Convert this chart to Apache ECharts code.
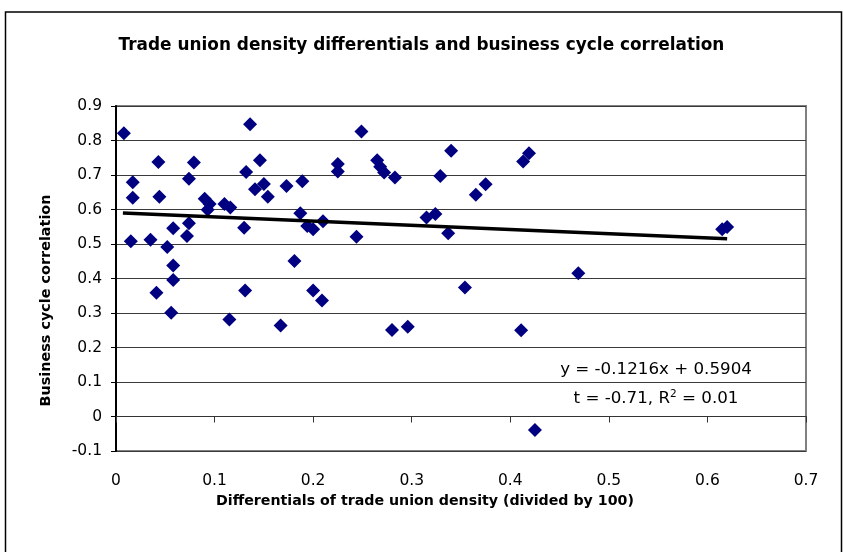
<!DOCTYPE html>
<html>
<head>
<meta charset="utf-8">
<script src="https://cdn.jsdelivr.net/npm/echarts@6/dist/echarts.min.js"></script>
<style>
  html, body { margin: 0; padding: 0; background: #fff; }
  #chart { width: 843px; height: 552px; }
</style>
</head>
<body>
<div id="chart"></div>
<script>
// union density differential (/100) and business cycle correlation
const unionDiff = [
  0.008, 0.017, 0.017, 0.015, 0.035, 0.043, 0.044, 0.052, 0.058, 0.058,
  0.058, 0.041, 0.056, 0.079, 0.074, 0.074, 0.072, 0.090, 0.095, 0.093,
  0.110, 0.116, 0.132, 0.136, 0.146, 0.141, 0.150, 0.154, 0.130, 0.131,
  0.115, 0.167, 0.173, 0.181, 0.189, 0.187, 0.194, 0.200, 0.210, 0.200,
  0.209, 0.225, 0.225, 0.249, 0.244, 0.265, 0.268, 0.272, 0.283, 0.315,
  0.324, 0.329, 0.340, 0.337, 0.280, 0.296, 0.365, 0.375, 0.413, 0.419,
  0.354, 0.411, 0.425, 0.469, 0.615, 0.620
];
const cycleCorr = [
  0.821, 0.679, 0.634, 0.508, 0.512, 0.738, 0.637, 0.491, 0.546, 0.438,
  0.396, 0.359, 0.301, 0.736, 0.689, 0.560, 0.523, 0.631, 0.616, 0.599,
  0.616, 0.606, 0.709, 0.847, 0.743, 0.659, 0.674, 0.637, 0.547, 0.365,
  0.281, 0.264, 0.668, 0.451, 0.682, 0.589, 0.552, 0.543, 0.566, 0.365,
  0.336, 0.732, 0.710, 0.826, 0.521, 0.743, 0.724, 0.707, 0.693, 0.577,
  0.587, 0.697, 0.770, 0.531, 0.251, 0.260, 0.643, 0.673, 0.739, 0.763,
  0.374, 0.250, -0.039, 0.415, 0.543, 0.549
];
// fitted line end points
const trendX = [0.007, 0.62];
const trendY = [0.5895, 0.515];
const equationText = 'y = -0.1216x + 0.5904';

const font = 'DejaVu Sans';
const chart = echarts.init(document.getElementById('chart'));

const points = unionDiff.map((x, i) => [x, cycleCorr[i]]);
const trend = trendX.map((x, i) => [x, trendY[i]]);

chart.setOption({
  animation: false,
  backgroundColor: '#fff',
  title: {
    text: 'Trade union density differentials and business cycle correlation',
    left: 'center',
    top: 32,
    textStyle: { fontFamily: font, fontSize: 16.9, fontWeight: 'bold', color: '#000' }
  },
  grid: {
    left: 116, top: 106, width: 690, height: 345,
    show: true, borderColor: '#808080', borderWidth: 2
  },
  xAxis: [
    {
      type: 'value', min: 0, max: 0.7, interval: 0.1, position: 'bottom',
      axisLine: { show: false, onZero: false },
      axisTick: { show: false },
      splitLine: { show: false },
      axisLabel: { margin: 22, fontFamily: font, fontSize: 15.5, color: '#000' },
      name: 'Differentials of trade union density (divided by 100)',
      nameLocation: 'middle', nameGap: 40,
      nameTextStyle: {
        fontFamily: font, fontSize: 14.2, fontWeight: 'bold', color: '#000',
        padding: [0, 72, 0, 0]
      }
    },
    {
      type: 'value', min: 0, max: 0.7, interval: 0.1, position: 'top',
      axisLine: { show: true, onZero: true, onZeroAxisIndex: 0, lineStyle: { color: '#333', width: 1 } },
      axisTick: { show: true, inside: true, length: 6, lineStyle: { color: '#333', width: 1 } },
      axisLabel: { show: false },
      splitLine: { show: false }
    }
  ],
  yAxis: {
    type: 'value', min: -0.1, max: 0.9, interval: 0.1,
    axisLine: { show: true, onZero: false, lineStyle: { color: '#000', width: 2 } },
    axisTick: { show: true, length: 5, lineStyle: { color: '#000' } },
    axisLabel: {
      margin: 14, fontFamily: font, fontSize: 15.5, color: '#000',
      formatter: v => (Math.round(v * 10) / 10).toString()
    },
    splitLine: { show: true, lineStyle: { color: '#3a3a3a', width: 1 } },
    name: 'Business cycle correlation',
    nameLocation: 'middle', nameGap: 63, nameRotate: 90,
    nameTextStyle: {
      fontFamily: font, fontSize: 14.4, fontWeight: 'bold', color: '#000',
      padding: [0, 44, 0, 0]
    }
  },
  series: [
    {
      type: 'scatter',
      data: points,
      symbol: 'diamond',
      symbolSize: 14,
      itemStyle: { color: '#000080', opacity: 1 },
      z: 2
    },
    {
      type: 'line',
      data: trend,
      showSymbol: false,
      lineStyle: { color: '#000', width: 3.5 },
      z: 3
    }
  ],
  graphic: [
    {
      type: 'rect', silent: true,
      shape: { x: 5.5, y: 12, width: 836, height: 570 },
      style: { fill: 'none', stroke: '#000', lineWidth: 1.5 }
    },
    {
      type: 'text', x: 656, y: 370,
      style: {
        text: equationText, fontFamily: font, fontSize: 16.7, fill: '#000',
        align: 'center', verticalAlign: 'middle'
      }
    },
    {
      type: 'text', x: 656, y: 398,
      style: {
        text: '{n|t = -0.71, R}{s|2}{n| = 0.01}',
        align: 'center', verticalAlign: 'middle',
        rich: {
          n: { fontFamily: font, fontSize: 16.7, fill: '#000', verticalAlign: 'bottom' },
          s: { fontFamily: font, fontSize: 10.5, fill: '#000', verticalAlign: 'top', padding: [0, 0, 8, 0] }
        }
      }
    }
  ]
});
</script>
</body>
</html>
